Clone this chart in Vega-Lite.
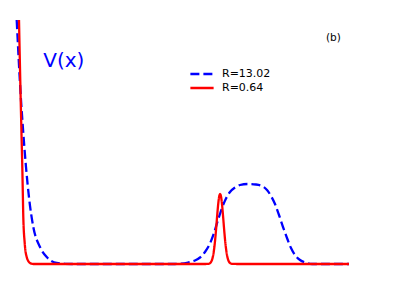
{
  "$schema": "https://vega.github.io/schema/vega-lite/v6.json",
  "width": 415,
  "height": 292,
  "autosize": {"type": "fit", "contains": "padding"},
  "padding": 0,
  "background": "white",
  "config": {"view": {"stroke": null}, "font": "DejaVu Sans"},
  "layer": [
    {
      "data": {"values": [
        {"series": "R=13.02", "x": -0.3, "v": 244},
        {"series": "R=13.02", "x": 4, "v": 164},
        {"series": "R=13.02", "x": 6.3, "v": 131},
        {"series": "R=13.02", "x": 9, "v": 97},
        {"series": "R=13.02", "x": 12.3, "v": 64},
        {"series": "R=13.02", "x": 16.3, "v": 37},
        {"series": "R=13.02", "x": 23, "v": 17},
        {"series": "R=13.02", "x": 29.7, "v": 7},
        {"series": "R=13.02", "x": 39.7, "v": 1},
        {"series": "R=13.02", "x": 48, "v": 0.2},
        {"series": "R=13.02", "x": 60, "v": 0},
        {"series": "R=13.02", "x": 158, "v": 0},
        {"series": "R=13.02", "x": 171, "v": 1.5},
        {"series": "R=13.02", "x": 178, "v": 3.5},
        {"series": "R=13.02", "x": 183, "v": 6.5},
        {"series": "R=13.02", "x": 188, "v": 12},
        {"series": "R=13.02", "x": 193, "v": 20.5},
        {"series": "R=13.02", "x": 197, "v": 31},
        {"series": "R=13.02", "x": 201, "v": 44},
        {"series": "R=13.02", "x": 205, "v": 56},
        {"series": "R=13.02", "x": 209, "v": 65.5},
        {"series": "R=13.02", "x": 213, "v": 72},
        {"series": "R=13.02", "x": 218, "v": 76.5},
        {"series": "R=13.02", "x": 223, "v": 79},
        {"series": "R=13.02", "x": 231, "v": 80},
        {"series": "R=13.02", "x": 239, "v": 79.5},
        {"series": "R=13.02", "x": 245, "v": 78},
        {"series": "R=13.02", "x": 250, "v": 74},
        {"series": "R=13.02", "x": 254, "v": 68},
        {"series": "R=13.02", "x": 258, "v": 60},
        {"series": "R=13.02", "x": 262, "v": 49},
        {"series": "R=13.02", "x": 266, "v": 37},
        {"series": "R=13.02", "x": 270, "v": 26},
        {"series": "R=13.02", "x": 274, "v": 16},
        {"series": "R=13.02", "x": 278, "v": 9},
        {"series": "R=13.02", "x": 283, "v": 4},
        {"series": "R=13.02", "x": 289, "v": 1.2},
        {"series": "R=13.02", "x": 295, "v": 0},
        {"series": "R=13.02", "x": 332, "v": 0}
      ]},
      "mark": {"type": "line", "strokeWidth": 2.3, "interpolate": "monotone"},
      "encoding": {
        "x": {"field": "x", "type": "quantitative", "axis": null, "scale": {"domain": [-17, 398], "nice": false, "zero": false}},
        "y": {"field": "v", "type": "quantitative", "axis": null, "scale": {"domain": [-28, 264], "nice": false, "zero": false}},
        "color": {"field": "series", "type": "nominal", "scale": {"domain": ["R=13.02", "R=0.64"], "range": ["#0000ff", "#ff0000"]},
          "legend": {"orient": "none", "legendX": 189, "legendY": 67, "title": null, "symbolType": "stroke", "symbolSize": 540, "symbolStrokeWidth": 2.3, "labelFont": "DejaVu Sans", "labelFontSize": 11, "labelColor": "black", "labelOffset": 7, "rowPadding": 0, "clipHeight": 14, "padding": 0}},
        "strokeDash": {"field": "series", "type": "nominal", "scale": {"domain": ["R=13.02", "R=0.64"], "range": [[9, 4], [1, 0]]},
          "legend": {"orient": "none", "legendX": 189, "legendY": 67, "title": null, "symbolType": "stroke", "symbolSize": 540, "symbolStrokeWidth": 2.3, "labelFont": "DejaVu Sans", "labelFontSize": 11, "labelColor": "black", "labelOffset": 7, "rowPadding": 0, "clipHeight": 14, "padding": 0}}
      }
    },
    {
      "data": {"values": [
        {"series": "R=0.64", "x": 2, "v": 244},
        {"series": "R=0.64", "x": 2.8, "v": 205},
        {"series": "R=0.64", "x": 3.7, "v": 164},
        {"series": "R=0.64", "x": 4.5, "v": 130},
        {"series": "R=0.64", "x": 5.3, "v": 97},
        {"series": "R=0.64", "x": 5.8, "v": 72},
        {"series": "R=0.64", "x": 6.3, "v": 47},
        {"series": "R=0.64", "x": 7.7, "v": 21},
        {"series": "R=0.64", "x": 9.7, "v": 7},
        {"series": "R=0.64", "x": 13, "v": 1},
        {"series": "R=0.64", "x": 16.3, "v": 0},
        {"series": "R=0.64", "x": 188, "v": 0},
        {"series": "R=0.64", "x": 191.1, "v": 0.14},
        {"series": "R=0.64", "x": 193.1, "v": 0.93},
        {"series": "R=0.64", "x": 194.1, "v": 2.1},
        {"series": "R=0.64", "x": 195.1, "v": 4.4},
        {"series": "R=0.64", "x": 196.1, "v": 8.4},
        {"series": "R=0.64", "x": 197.1, "v": 14.8},
        {"series": "R=0.64", "x": 198.1, "v": 23.7},
        {"series": "R=0.64", "x": 199.1, "v": 35},
        {"series": "R=0.64", "x": 200.1, "v": 47.4},
        {"series": "R=0.64", "x": 201.1, "v": 58.9},
        {"series": "R=0.64", "x": 202.1, "v": 67},
        {"series": "R=0.64", "x": 203.1, "v": 70},
        {"series": "R=0.64", "x": 204.1, "v": 67},
        {"series": "R=0.64", "x": 205.1, "v": 58.9},
        {"series": "R=0.64", "x": 206.1, "v": 47.4},
        {"series": "R=0.64", "x": 207.1, "v": 35},
        {"series": "R=0.64", "x": 208.1, "v": 23.7},
        {"series": "R=0.64", "x": 209.1, "v": 14.8},
        {"series": "R=0.64", "x": 210.1, "v": 8.4},
        {"series": "R=0.64", "x": 211.1, "v": 4.4},
        {"series": "R=0.64", "x": 212.1, "v": 2.1},
        {"series": "R=0.64", "x": 213.1, "v": 0.93},
        {"series": "R=0.64", "x": 215.1, "v": 0.14},
        {"series": "R=0.64", "x": 222, "v": 0},
        {"series": "R=0.64", "x": 332, "v": 0}
      ]},
      "mark": {"type": "line", "strokeWidth": 2.3, "interpolate": "monotone"},
      "encoding": {
        "x": {"field": "x", "type": "quantitative"},
        "y": {"field": "v", "type": "quantitative"},
        "color": {"field": "series", "type": "nominal"},
        "strokeDash": {"field": "series", "type": "nominal"}
      }
    },
    {
      "data": {"values": [
        {"label": "V(x)", "x": 26.3, "v": 197.3}
      ]},
      "mark": {"type": "text", "align": "left", "baseline": "alphabetic", "fontSize": 20, "font": "DejaVu Sans", "color": "#0000ff"},
      "encoding": {
        "x": {"field": "x", "type": "quantitative"},
        "y": {"field": "v", "type": "quantitative"},
        "text": {"field": "label"}
      }
    },
    {
      "data": {"values": [
        {"label": "(b)", "x": 309, "v": 223.3}
      ]},
      "mark": {"type": "text", "align": "left", "baseline": "alphabetic", "fontSize": 10.5, "font": "DejaVu Sans", "color": "black"},
      "encoding": {
        "x": {"field": "x", "type": "quantitative"},
        "y": {"field": "v", "type": "quantitative"},
        "text": {"field": "label"}
      }
    }
  ]
}
